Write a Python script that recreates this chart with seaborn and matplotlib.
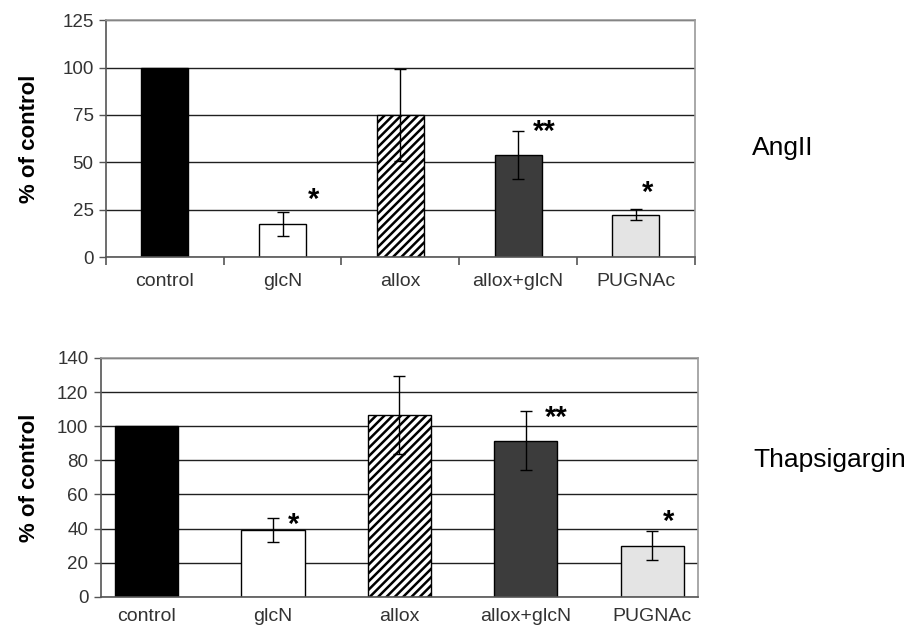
import matplotlib
matplotlib.use("Agg")
import matplotlib.pyplot as plt
import numpy as np
import pandas as pd
import seaborn as sns


KATEGORIER = ["control", "glcN", "allox", "allox+glcN", "PUGNAc"]
FARGER = ["#000000", "#ffffff", "#ffffff", "#3c3c3c", "#e4e4e4"]
MØNSTER = ["", "", "////", "", ""]

ANGII_VERDI = [100, 17.5, 75, 54, 22.5]
ANGII_FEIL = [0, 6.5, 24, 12.5, 3]
ANGII_STJERNER = ["", "*", "", "**", "*"]
ANGII_STJERNE_Y = [0, 30, 0, 66, 34]

THAPS_VERDI = [100, 39, 106.5, 91.5, 30]
THAPS_FEIL = [0, 7, 23, 17.3, 8.5]
THAPS_STJERNER = ["", "*", "", "**", "*"]
THAPS_STJERNE_Y = [0, 42, 0, 105, 44]

TEKST_FARGE = "#333333"
KANT_FARGE = "#9a9a9a"


def tegn_panel(ax, verdier, feil, stjerner, stjerne_y, ymax, ystep, bredde, xpad, kant_ticks, stjerne_dx, ylabelpad):
    df = pd.DataFrame({"kategori": KATEGORIER, "verdi": verdier})
    sns.barplot(data=df, x="kategori", y="verdi", hue="kategori", palette=FARGER,
                order=KATEGORIER, width=bredde, edgecolor="black", linewidth=1.0,
                legend=False, ax=ax, zorder=2)
    for patch, mønster in zip(ax.patches, MØNSTER):
        if mønster:
            patch.set_hatch(mønster)
    x = np.arange(len(KATEGORIER))
    maske = np.array(feil) > 0
    ax.errorbar(x[maske], np.array(verdier)[maske], yerr=np.array(feil)[maske], fmt="none",
                ecolor="black", elinewidth=1.0, capsize=4, capthick=1.0, zorder=3)
    for i, (tekst, y) in enumerate(zip(stjerner, stjerne_y)):
        if tekst:
            ax.text(i + stjerne_dx[i], y, tekst, ha="center", va="center",
                    fontsize=21, fontweight="bold", color="black", zorder=4)

    ax.set_ylim(0, ymax)
    ax.set_xlim(-0.5 + xpad, len(KATEGORIER) - 0.5 - xpad)
    ax.set_yticks(np.arange(0, ymax + 1, ystep))
    ax.yaxis.grid(True, color="#202020", linewidth=1.0)
    ax.xaxis.grid(False)
    ax.set_axisbelow(True)
    ax.set_xlabel("")
    ax.set_ylabel("% of control", fontsize=16, fontweight="bold", color="black", labelpad=ylabelpad)

    for side in ["top", "right"]:
        ax.spines[side].set_visible(True)
        ax.spines[side].set_color(KANT_FARGE)
        ax.spines[side].set_linewidth(1.2)
    for side in ["left", "bottom"]:
        ax.spines[side].set_visible(True)
        ax.spines[side].set_color("#555555")
        ax.spines[side].set_linewidth(1.2)

    ax.tick_params(axis="y", direction="out", length=5, width=1, color="#555555",
                   labelsize=13.5, labelcolor=TEKST_FARGE, left=True, pad=4)
    if kant_ticks:
        ax.set_xticks(np.arange(-0.5, len(KATEGORIER), 1.0), minor=True)
        ax.tick_params(axis="x", which="minor", direction="out", length=6, width=1.2,
                       color="#555555", bottom=True)
        ax.tick_params(axis="x", which="major", length=0, labelsize=14,
                       labelcolor=TEKST_FARGE, pad=11)
    else:
        ax.tick_params(axis="x", length=0, labelsize=14, labelcolor=TEKST_FARGE, pad=8)


def main() -> None:
    sns.set_theme(style="white")
    plt.rcParams["font.family"] = ["Liberation Sans", "DejaVu Sans"]
    plt.rcParams["hatch.linewidth"] = 1.8

    fig = plt.figure(figsize=(9.14, 6.29), dpi=100)
    ax_topp = fig.add_axes([0.116, 0.591, 0.644, 0.377])
    ax_bunn = fig.add_axes([0.1105, 0.051, 0.653, 0.380])

    tegn_panel(ax_topp, ANGII_VERDI, ANGII_FEIL, ANGII_STJERNER, ANGII_STJERNE_Y,
               125, 25, 0.4, 0.0, True, [0, 0.26, 0, 0.22, 0.1], 16)
    tegn_panel(ax_bunn, THAPS_VERDI, THAPS_FEIL, THAPS_STJERNER, THAPS_STJERNE_Y,
               140, 20, 0.5, 0.14, False, [0, 0.16, 0, 0.24, 0.13], 12)

    fig.text(0.856, 0.765, "AngII", fontsize=19, color="black", ha="center", va="center")
    fig.text(0.908, 0.268, "Thapsigargin", fontsize=19, color="black", ha="center", va="center")

    fig.savefig("out.png", dpi=100)
    plt.close(fig)


if __name__ == "__main__":
    main()
